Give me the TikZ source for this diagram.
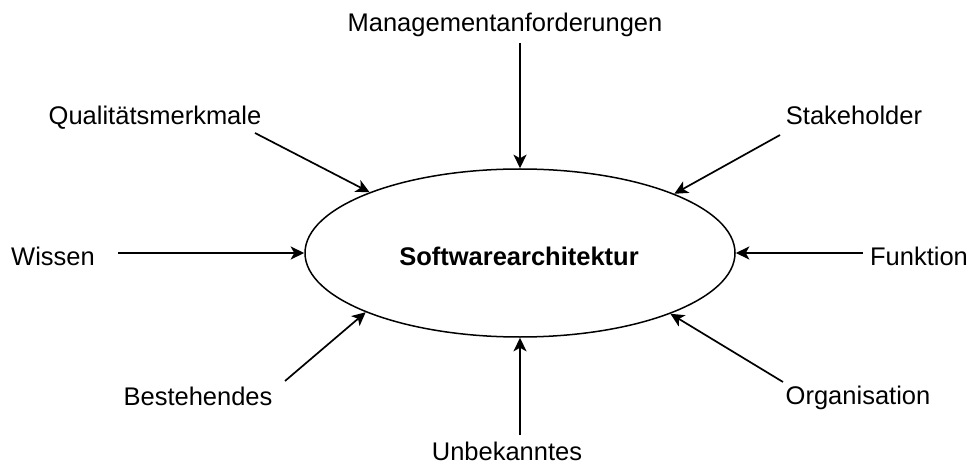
\documentclass[tikz,border=0pt]{standalone}
\usepackage{fontspec}
\setmainfont{Liberation Sans}
\usetikzlibrary{arrows.meta,shapes.geometric}
\begin{document}
\begin{tikzpicture}[x=0.5pt,y=-0.5pt,
  label/.style={anchor=base,inner sep=0pt,font=\fontsize{12.75}{15}\selectfont},
  core/.style={ellipse,draw,line width=0.75pt,minimum width=215pt,minimum height=84pt,inner sep=0pt},
  feed/.style={line width=0.85pt,-{Stealth[length=6.8pt,width=6.5pt,inset=1.8pt]}}]
\useasboundingbox (0,0) rectangle (972,464);
% central ellipse
\node[core] (sa) at (520,253) {};
\node[label,font=\fontsize{12.75}{15}\selectfont\bfseries] (satext) at (519,265) {Softwarearchitektur};
% surrounding influences
\node[label] (mgmt) at (505,32) {Managementanforderungen};
\node[label] (qual) at (155,125) {Qualitätsmerkmale};
\node[label] (stake) at (854,125) {Stakeholder};
\node[label] (wissen) at (53,265) {Wissen};
\node[label] (funk) at (919,265) {Funktion};
\node[label] (best) at (198,405) {Bestehendes};
\node[label] (org) at (858,404) {Organisation};
\node[label] (unbek) at (507,460) {Unbekanntes};
% arrow tails
\coordinate (cmgmt) at (520,43);
\coordinate (cqual) at (255,133);
\coordinate (cstake) at (780,135);
\coordinate (cwissen) at (118,253);
\coordinate (cfunk) at (863,253);
\coordinate (cbest) at (285,381);
\coordinate (corg) at (783,382);
\coordinate (cunbek) at (520,435);
% arrows into the ellipse
\draw[feed] (cmgmt) -- (sa.north);
\draw[feed] (cqual) -- (sa.158.5);
\draw[feed] (cstake) -- (sa.21.5);
\draw[feed] (cwissen) -- (sa.west);
\draw[feed] (cfunk) -- (sa.east);
\draw[feed] (cbest) -- (sa.201.5);
\draw[feed] (corg) -- (sa.338.5);
\draw[feed] (cunbek) -- (sa.south);
\end{tikzpicture}
\end{document}
